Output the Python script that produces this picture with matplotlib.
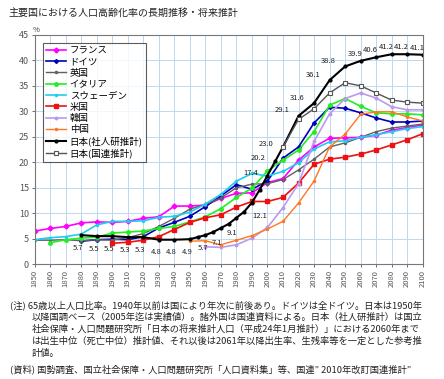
import matplotlib
matplotlib.use("Agg")
import matplotlib.pyplot as plt

plt.rcParams['font.family'] = ['Noto Sans CJK JP', 'DejaVu Sans']

title = "主要国における人口高齢化率の長期推移・将来推計"

france_x = [1850,1860,1870,1880,1890,1900,1910,1920,1930,1940,1950,1960,1970,1980,1990,2000,2010,2020,2030,2040,2050,2060,2070,2080,2090,2100]
france_y = [6.5,7.0,7.4,8.1,8.3,8.2,8.4,9.0,9.3,11.4,11.4,11.6,12.9,13.9,14.0,16.0,16.8,20.4,23.0,24.7,24.8,24.9,25.3,26.3,26.8,27.3]

germany_x = [1880,1890,1900,1910,1920,1930,1940,1950,1960,1970,1980,1990,2000,2010,2020,2030,2040,2050,2060,2070,2080,2090,2100]
germany_y = [4.5,4.8,4.9,4.8,5.4,7.1,8.2,9.4,11.3,13.4,15.6,14.7,16.3,20.8,23.0,27.7,30.8,30.6,29.7,28.7,27.9,27.9,28.1]

uk_x = [1850,1860,1870,1880,1890,1900,1910,1920,1930,1940,1950,1960,1970,1980,1990,2000,2010,2020,2030,2040,2050,2060,2070,2080,2090,2100]
uk_y = [4.7,4.7,4.8,4.6,4.8,4.7,5.2,6.0,7.4,9.0,10.8,11.7,13.0,15.0,15.7,15.8,16.6,18.5,20.6,23.0,23.8,24.9,26.0,26.7,27.1,27.5]

italy_x = [1860,1870,1880,1890,1900,1910,1920,1930,1940,1950,1960,1970,1980,1990,2000,2010,2020,2030,2040,2050,2060,2070,2080,2090,2100]
italy_y = [4.2,4.8,5.1,5.3,6.1,6.3,6.5,7.0,7.4,8.3,9.3,10.9,13.1,14.9,18.3,20.4,22.4,26.0,31.2,32.5,31.0,29.7,29.5,29.5,29.3]

sweden_x = [1850,1860,1870,1880,1890,1900,1910,1920,1930,1940,1950,1960,1970,1980,1990,2000,2010,2020,2030,2040,2050,2060,2070,2080,2090,2100]
sweden_y = [4.8,5.2,5.4,5.9,7.7,8.4,8.4,8.5,9.2,9.4,10.2,11.8,13.7,16.3,17.8,17.3,18.2,19.9,22.6,24.0,24.2,24.9,25.4,26.0,26.6,27.0]

us_x = [1900,1910,1920,1930,1940,1950,1960,1970,1980,1990,2000,2010,2020,2030,2040,2050,2060,2070,2080,2090,2100]
us_y = [4.1,4.3,4.7,5.4,6.8,8.2,9.1,9.7,11.2,12.3,12.3,13.1,15.9,19.6,20.6,21.0,21.6,22.4,23.4,24.4,25.6]

korea_x = [1960,1970,1980,1990,2000,2010,2020,2030,2040,2050,2060,2070,2080,2090,2100]
korea_y = [3.4,3.3,3.8,5.1,7.2,11.1,15.8,24.1,29.5,32.5,33.6,32.6,30.9,30.3,30.3]

china_x = [1950,1960,1970,1980,1990,2000,2010,2020,2030,2040,2050,2060,2070,2080,2090,2100]
china_y = [4.5,4.6,3.8,4.7,5.6,6.9,8.4,12.0,16.3,23.0,25.5,29.4,29.9,29.9,28.9,28.1]

japan_x = [1880,1890,1900,1910,1920,1930,1940,1950,1955,1960,1965,1970,1975,1980,1985,1990,1995,2000,2005,2010,2020,2030,2040,2050,2060,2070,2080,2090,2100]
japan_y = [5.7,5.5,5.5,5.3,5.3,4.8,4.8,4.9,5.3,5.7,6.3,7.1,7.9,9.1,10.3,12.1,14.6,17.4,20.2,23.0,29.1,31.6,36.1,38.8,39.9,40.6,41.2,41.2,41.1]
japan_labels = {1880:"5.7",1890:"5.5",1900:"5.5",1910:"5.3",1920:"5.3",1930:"4.8",1940:"4.8",1950:"4.9",
                1960:"5.7",1970:"7.1",1980:"9.1",1990:"12.1",2000:"17.4",2005:"20.2",2010:"23.0",
                2020:"29.1",2030:"31.6",2040:"36.1",2050:"38.8",2060:"39.9",2070:"40.6",2080:"41.2",2090:"41.2",2100:"41.1"}

japan_un_x = [2010,2020,2030,2040,2050,2060,2070,2080,2090,2100]
japan_un_y = [23.0,28.4,30.5,33.6,35.6,35.0,33.6,32.2,31.8,31.6]

xticks = list(range(1850, 2101, 10))
yticks = list(range(0, 46, 5))

notes = [
    "(注) 65歳以上人口比率。1940年以前は国により年次に前後あり。ドイツは全ドイツ。日本は1950年",
    "以降国調ベース（2005年迄は実績値）。諸外国は国連資料による。日本（社人研推計）は国立",
    "社会保障・人口問題研究所「日本の将来推計人口（平成24年1月推計）」における2060年まで",
    "は出生中位（死亡中位）推計値、それ以後は2061年以降出生率、生残率等を一定とした参考推",
    "計値。",
]
source = "(資料) 国勢調査、国立社会保障・人口問題研究所「人口資料集」等、国連\u201d 2010年改訂国連推計\u201d"

fig = plt.figure(figsize=(4.44, 3.79), dpi=100)
ax = fig.add_axes([0.078, 0.303, 0.874, 0.605])

series = [
    ("フランス", france_x, france_y, "#ff00ff", "D", 2.5, 1.2),
    ("ドイツ", germany_x, germany_y, "#0000bb", "D", 2.0, 1.2),
    ("英国", uk_x, uk_y, "#606060", "o", 1.5, 1.0),
    ("イタリア", italy_x, italy_y, "#22ee22", "o", 2.5, 1.2),
    ("スウェーデン", sweden_x, sweden_y, "#22ccee", "o", 1.5, 1.2),
    ("米国", us_x, us_y, "#ee1111", "s", 2.5, 1.2),
    ("韓国", korea_x, korea_y, "#bb99ee", "o", 1.8, 1.2),
    ("中国", china_x, china_y, "#ff7722", "o", 1.5, 1.0),
]
for name, xs, ys, c, m, ms, lw in series:
    ax.plot(xs, ys, color=c, marker=m, markersize=ms, linewidth=lw, label=name)

ax.plot(japan_x, japan_y, color="black", marker="o", markersize=2, linewidth=1.5, label="日本(社人研推計)")
ax.plot(japan_un_x, japan_un_y, color="#555555", marker="s", markersize=3.5, markerfacecolor="white",
        markeredgewidth=0.8, linewidth=1.0, label="日本(国連推計)")

for xv, yv in zip(japan_x, japan_y):
    if xv in japan_labels:
        if xv <= 1960:
            off = (-2, -9)
        elif xv in (1970, 1980):
            off = (-3, -11)
        elif xv == 1990:
            off = (6, -10)
        elif xv <= 2010:
            off = (-12, 2)
        elif xv <= 2050:
            off = (-12, 4)
        else:
            off = (-4, 5)
        ax.annotate(japan_labels[xv], (xv, yv), xytext=off, textcoords="offset points",
                    fontsize=5.5, color="#222222", ha="center", va="center")

ax.set_xlim(1850, 2100)
ax.set_ylim(0, 45)
ax.set_xticks(xticks)
ax.set_xticklabels([str(t) for t in xticks], rotation=90, fontsize=5.5, color="#333333")
ax.set_yticks(yticks)
ax.set_yticklabels([str(t) for t in yticks], fontsize=6.5, color="#333333")
ax.tick_params(length=2, width=0.6, colors="#555555", pad=2)
ax.grid(True, color="#bcd8f0", linewidth=0.7)
ax.set_axisbelow(True)
for s in ax.spines.values():
    s.set_color("#777777")
    s.set_linewidth(0.8)
ax.text(-0.005, 1.005, "%", transform=ax.transAxes, fontsize=5.5, ha="left", va="bottom", color="#333333")

leg = ax.legend(loc="upper left", bbox_to_anchor=(0.01, 0.985), fontsize=6.8, frameon=True, fancybox=False,
                edgecolor="#333333", borderpad=0.3, labelspacing=0.25, handlelength=2.1, handletextpad=0.4)
leg.get_frame().set_linewidth(0.8)

fig.text(0.018, 0.965, title, fontsize=7.2, ha="left", va="center", color="#222222")

y0 = 0.195
dy = 0.032
for i, line in enumerate(notes):
    x = 0.022 if i == 0 else 0.072
    fig.text(x, y0 - i * dy, line, fontsize=6.7, ha="left", va="center", color="#222222")
fig.text(0.022, y0 - 5 * dy - 0.01, source, fontsize=6.7, ha="left", va="center", color="#222222")

fig.savefig("out.png", dpi=100)
